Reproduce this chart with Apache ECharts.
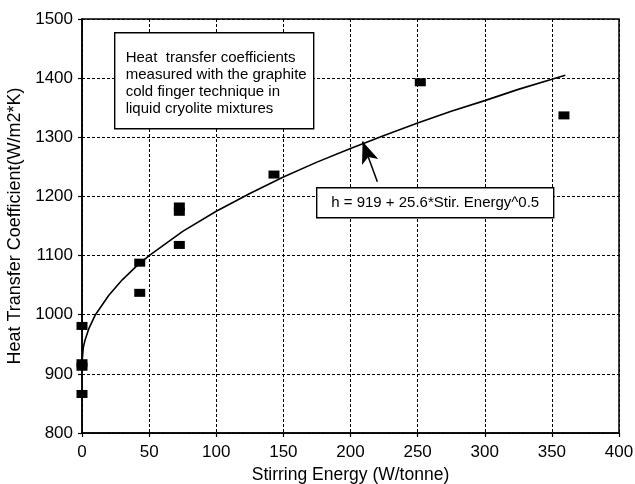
<!DOCTYPE html>
<html>
<head>
<meta charset="utf-8">
<script src="https://cdn.jsdelivr.net/npm/echarts@6/dist/echarts.min.js"></script>
<style>
  html, body { margin: 0; padding: 0; background: #fff; }
  #chart { width: 635px; height: 484px; }
</style>
</head>
<body>
<div id="chart"></div>
<script>
// Measured heat transfer coefficients: stirring energy (W/tonne) and h (W/m2*K)
const measuredEnergy = [0, 0, 0, 0, 43, 43, 72.5, 72.5, 72.5, 143, 252, 359];
const measuredH      = [981, 918, 912, 866, 1088, 1037, 1118, 1183, 1174, 1237, 1393, 1337];

// Fitted curve h = 919 + 25.6*E^0.5, as plotted
const fitEnergy = [0, 1, 2, 5, 10, 20, 30, 40, 50, 75, 100, 125, 150, 175, 200, 225, 250, 275, 300, 325, 350, 360];
const fitH      = [919, 945, 955, 976, 1000, 1033, 1059, 1081, 1100, 1141, 1175, 1205, 1233, 1258, 1281, 1303, 1324, 1344, 1362, 1381, 1398, 1405];

// Arrow from the equation label to the curve
const arrowFrom = [220, 1225];
const arrowTo   = [209, 1293];

const xTicks = { min: 0, max: 400, interval: 50 };
const yTicks = { min: 800, max: 1500, interval: 100 };

const FONT = '"Liberation Sans", Arial, Helvetica, sans-serif';

const chart = echarts.init(document.getElementById('chart'), null, { renderer: 'canvas' });

const measured = measuredEnergy.map((e, i) => [e, measuredH[i]]);
const fit = fitEnergy.map((e, i) => [e, fitH[i]]);

const gridDash = { color: '#000', width: 1, type: [3, 2] };

chart.setOption({
  animation: false,
  backgroundColor: '#fff',
  grid: {
    left: 82, right: 16, top: 19, bottom: 51,
    outerBoundsMode: 'none', containLabel: false,
    show: true, borderColor: '#000', borderWidth: 1.5, backgroundColor: 'transparent'
  },
  xAxis: {
    type: 'value',
    min: xTicks.min, max: xTicks.max, interval: xTicks.interval,
    name: 'Stirring Energy (W/tonne)',
    nameLocation: 'middle', nameGap: 33,
    nameTextStyle: { color: '#000', fontFamily: FONT, fontSize: 17.5 },
    axisLine: { show: true, lineStyle: { color: '#000', width: 1.5 } },
    axisTick: { show: true, length: 4, inside: false, lineStyle: { color: '#000', width: 1.2 } },
    axisLabel: { color: '#000', fontFamily: FONT, fontSize: 17, margin: 11, formatter: v => String(v) },
    splitLine: { show: true, lineStyle: gridDash }
  },
  yAxis: {
    type: 'value',
    min: yTicks.min, max: yTicks.max, interval: yTicks.interval,
    name: 'Heat Transfer Coefficient(W/m2*K)',
    nameLocation: 'middle', nameGap: 51, nameRotate: 90,
    nameTextStyle: { color: '#000', fontFamily: FONT, fontSize: 18 },
    axisLine: { show: true, lineStyle: { color: '#000', width: 1.5 } },
    axisTick: { show: true, length: 4, inside: false, lineStyle: { color: '#000', width: 1.2 } },
    axisLabel: { color: '#000', fontFamily: FONT, fontSize: 17, margin: 9, formatter: v => String(v) },
    splitLine: { show: true, lineStyle: gridDash }
  },
  series: [
    {
      type: 'line',
      data: fit,
      showSymbol: false,
      symbol: 'none',
      lineStyle: { color: '#000', width: 1.6 },
      z: 3,
      markLine: {
        silent: true,
        symbol: ['none', 'arrow'],
        symbolSize: [13, 22],
        label: { show: false },
        lineStyle: { color: '#000', width: 1.5, type: 'solid' },
        data: [[{ coord: arrowFrom }, { coord: arrowTo }]]
      }
    },
    {
      type: 'scatter',
      data: measured,
      symbol: 'rect',
      symbolSize: [11, 8],
      itemStyle: { color: '#000', opacity: 1 },
      z: 4
    }
  ],
  graphic: [
    {
      type: 'group',
      left: 114, top: 32, z: 100,
      children: [
        {
          type: 'rect', z: 100,
          shape: { x: 0, y: 0, width: 199, height: 96 },
          style: { fill: '#fff', stroke: '#000', lineWidth: 1.4 }
        },
        {
          type: 'text', z: 101,
          x: 11, y: 17,
          style: {
            text: 'Heat  transfer coefficients\nmeasured with the graphite\ncold finger technique in\nliquid cryolite mixtures',
            fill: '#000', font: '15px ' + FONT, lineHeight: 17
          }
        }
      ]
    },
    {
      type: 'group',
      left: 316, top: 187, z: 100,
      children: [
        {
          type: 'rect', z: 100,
          shape: { x: 0, y: 0, width: 237, height: 30 },
          style: { fill: '#fff', stroke: '#000', lineWidth: 1.4 }
        },
        {
          type: 'text', z: 101,
          x: 118.5, y: 15,
          style: {
            text: 'h = 919 + 25.6*Stir. Energy^0.5',
            fill: '#000', font: '15px ' + FONT,
            textAlign: 'center', textVerticalAlign: 'middle'
          }
        }
      ]
    }
  ]
});
</script>
</body>
</html>
